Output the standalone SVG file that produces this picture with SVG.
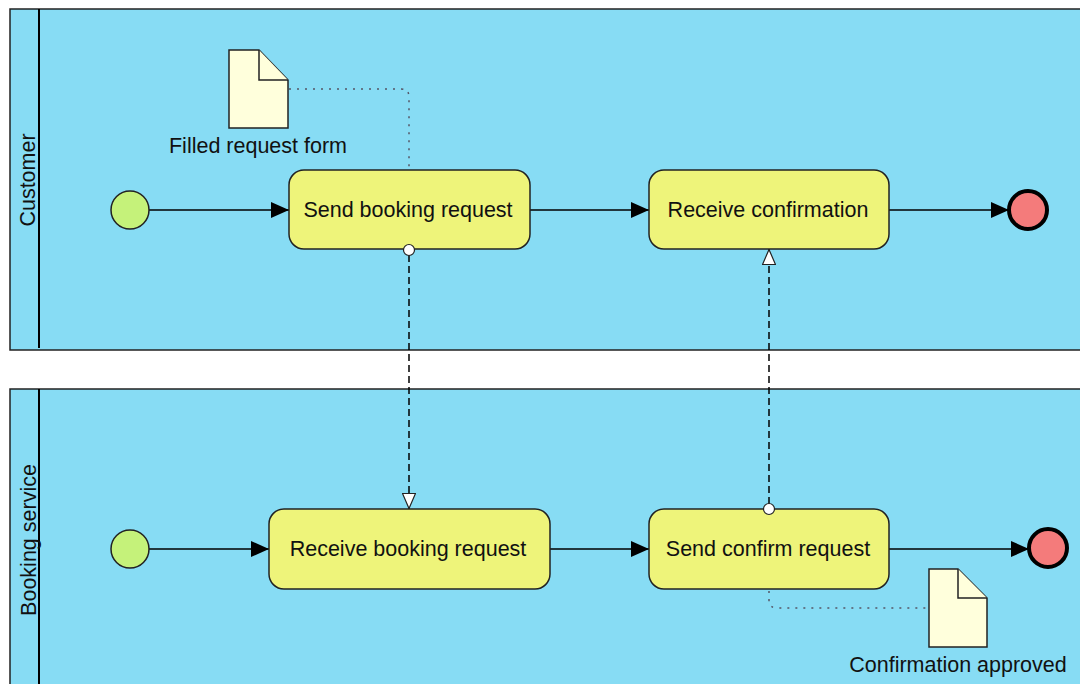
<svg xmlns="http://www.w3.org/2000/svg" width="1080" height="684" viewBox="0 0 1080 684">
<defs>
<style>
.pool{fill:#87DCF4;stroke:#222;stroke-width:1.5}
.lane{stroke:#000;stroke-width:2}
.task{fill:#EEF47A;stroke:#222;stroke-width:1.5}
.txt{font-family:"Liberation Sans",Arial,sans-serif;font-size:21.5px;fill:#111}
.start{fill:#C5F27A;stroke:#222;stroke-width:1.5}
.end{fill:#F47B7B;stroke:#000;stroke-width:4}
.doc{fill:#FFFFDC;stroke:#222;stroke-width:1.5}
.seq{fill:none;stroke:#000;stroke-width:1.5}
.msg{fill:none;stroke:#000;stroke-width:1.5;stroke-dasharray:7 4}
.assoc{fill:none;stroke:#556;stroke-width:1.5;stroke-dasharray:2 6}
.port{fill:#fff;stroke:#222;stroke-width:1.2}
</style>
<marker id="arr" viewBox="0 0 18 16" refX="18" refY="8" markerWidth="18" markerHeight="16" markerUnits="userSpaceOnUse" orient="auto">
<path d="M0,0 L18,8 L0,16 Z" fill="#000"/>
</marker>
<marker id="open" viewBox="0 0 16 14" refX="16" refY="7" markerWidth="16" markerHeight="14" markerUnits="userSpaceOnUse" orient="auto">
<path d="M0.5,0.5 L15.5,7 L0.5,13.5 Z" fill="#fff" stroke="#222" stroke-width="1.2"/>
</marker>
</defs>
<rect width="1080" height="684" fill="#fff"/>
<g id="pool-customer">
<rect class="pool" x="10" y="9" width="1080" height="341"/>
<line class="lane" x1="39" y1="9" x2="39" y2="348"/>
<text class="txt" transform="translate(35,180) rotate(-90)" text-anchor="middle">Customer</text>
</g>
<g id="pool-booking">
<rect class="pool" x="10" y="389" width="1080" height="310"/>
<line class="lane" x1="39" y1="389" x2="39" y2="690"/>
<text class="txt" transform="translate(36,540) rotate(-90)" text-anchor="middle">Booking service</text>
</g>
<g id="connectors">
<line class="seq" x1="149" y1="210" x2="289" y2="210" marker-end="url(#arr)"/>
<line class="seq" x1="530" y1="210" x2="649" y2="210" marker-end="url(#arr)"/>
<line class="seq" x1="889" y1="210" x2="1009" y2="210" marker-end="url(#arr)"/>
<line class="seq" x1="149" y1="549" x2="269" y2="549" marker-end="url(#arr)"/>
<line class="seq" x1="550" y1="549" x2="649" y2="549" marker-end="url(#arr)"/>
<line class="seq" x1="889" y1="549" x2="1029" y2="549" marker-end="url(#arr)"/>
<line class="msg" x1="409" y1="255" x2="409" y2="509" marker-end="url(#open)"/>
<line class="msg" x1="769" y1="504" x2="769" y2="249" marker-end="url(#open)"/>
<path class="assoc" d="M289,89 H401 Q409,89 409,97 V168"/>
<path class="assoc" d="M769,591 V600 Q769,608 777,608 H929"/>
</g>
<g id="start1"><circle class="start" cx="130" cy="210" r="19"/></g>
<g id="task-send-booking">
<rect class="task" x="289" y="170" width="241" height="79" rx="15"/>
<text class="txt" x="408" y="217" text-anchor="middle">Send booking request</text>
</g>
<g id="task-receive-confirmation">
<rect class="task" x="649" y="170" width="240" height="79" rx="15"/>
<text class="txt" x="768" y="217" text-anchor="middle">Receive confirmation</text>
</g>
<g id="end1"><circle class="end" cx="1028" cy="210" r="19"/></g>
<g id="doc-filled">
<path class="doc" d="M229,50 H259 L288,80 V128 H229 Z"/>
<path class="doc" d="M259,50 V80 H288" fill="#87DCF4"/>
<text class="txt" x="258" y="153" text-anchor="middle">Filled request form</text>
</g>
<g id="start2"><circle class="start" cx="130" cy="549" r="19"/></g>
<g id="task-receive-booking">
<rect class="task" x="269" y="509" width="281" height="80" rx="15"/>
<text class="txt" x="408" y="556" text-anchor="middle">Receive booking request</text>
</g>
<g id="task-send-confirm">
<rect class="task" x="649" y="509" width="240" height="80" rx="15"/>
<text class="txt" x="768" y="556" text-anchor="middle">Send confirm request</text>
</g>
<g id="end2"><circle class="end" cx="1048" cy="548" r="19"/></g>
<g id="doc-confirmation">
<path class="doc" d="M929,569 H958 L987,598 V647 H929 Z"/>
<path class="doc" d="M958,569 V598 H987" fill="#87DCF4"/>
<text class="txt" x="958" y="672" text-anchor="middle">Confirmation approved</text>
</g>
<g id="message-ports">
<circle class="port" cx="409" cy="250" r="5.5"/>
<circle class="port" cx="769" cy="509" r="5.5"/>
</g>
</svg>
